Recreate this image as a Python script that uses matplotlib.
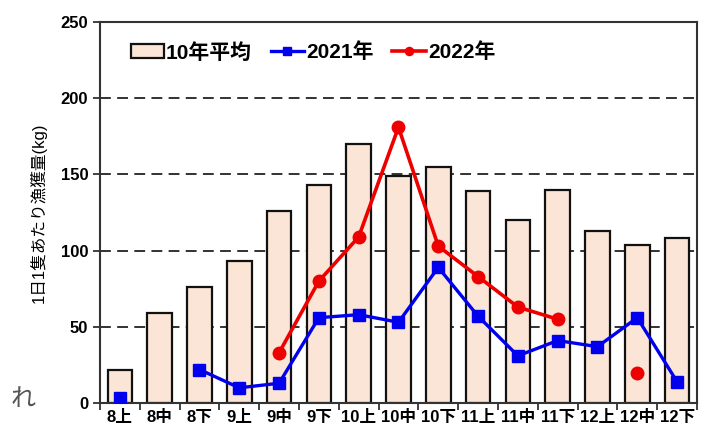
import matplotlib

matplotlib.use("Agg")
import matplotlib.pyplot as plt
import numpy as np

plt.rcParams["font.family"] = ["Liberation Sans", "Noto Sans CJK JP"]
plt.rcParams["font.weight"] = "bold"

periods = ["8上", "8中", "8下", "9上", "9中", "9下", "10上", "10中", "10下",
           "11上", "11中", "11下", "12上", "12中", "12下"]
avg10 = [22, 59, 76, 93, 126, 143, 170, 149, 155, 139, 120, 140, 113, 104, 108]
y2021 = [3, np.nan, 22, 10, 13, 56, 58, 53, 89, 57, 31, 41, 37, 56, 14]
y2022 = [np.nan, np.nan, np.nan, np.nan, 33, 80, 109, 181, 103, 83, 63, 55, np.nan, 20, np.nan]

fig = plt.figure(figsize=(7.06, 4.32), dpi=100)
ax = fig.add_axes([0.1416, 0.067, 0.8456, 0.882])

x = np.arange(len(periods))
for yv in [50, 100, 150, 200]:
    ax.axhline(yv, color="#222222", lw=1.3, ls=(0, (6, 3.5)), zorder=0)

bars = ax.bar(x, avg10, width=0.62, color="#fbe5d6", edgecolor="#111111", lw=1.6,
              label="10年平均", zorder=2)

b21 = np.array(y2021, dtype=float)
# 8中 missing: 8上 point stands alone, the rest is joined
l21, = ax.plot(x[2:], b21[2:], color="#0000ee", lw=2.4, marker="s",
               ms=8.5, zorder=3, label="2021年")
ax.plot(x[:1], b21[:1], color="#0000ee", lw=0, marker="s", ms=8.5, zorder=3)
l22, = ax.plot(x, y2022, color="#ee0000", lw=2.6, marker="o", ms=9, zorder=4, label="2022年")

ax.set_xlim(-0.5, len(periods) - 0.5)
ax.set_ylim(0, 250)
ax.set_yticks([0, 50, 100, 150, 200, 250])
ax.set_xticks(x)
ax.set_xticklabels(periods, fontsize=12)
ax.set_xticks(np.arange(-0.5, len(periods)), minor=True)
ax.tick_params(axis="x", which="major", length=0, pad=5)
ax.tick_params(axis="x", which="minor", length=5, width=1.3, direction="out", color="#333333")
ax.tick_params(axis="y", length=5, width=1.3, direction="out", labelsize=12, color="#333333")
for s in ax.spines.values():
    s.set_color("#333333")
    s.set_linewidth(1.5)

ax.set_ylabel("1日1隻あたり漁獲量(kg)", fontsize=12, labelpad=10)

ax.legend([bars, l21, l22], ["10年平均", "2021年", "2022年"], loc="upper left", ncol=3,
          frameon=False, fontsize=15, handlelength=1.6, markerscale=0.65,
          handletextpad=0.1, columnspacing=0.9, bbox_to_anchor=(0.02, 0.995))

fig.text(0.015, 0.06, "れ", fontsize=18, color="#555555", fontweight="normal",
         family=["Noto Sans CJK JP"])

fig.savefig("out.png", dpi=100)
